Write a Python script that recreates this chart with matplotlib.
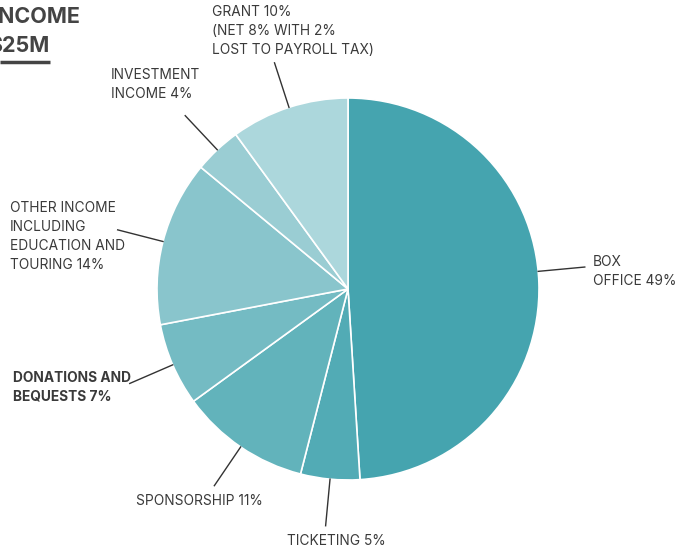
import numpy as np
import matplotlib
matplotlib.use('Agg')
import matplotlib.pyplot as plt

# Datos del gráfico (sentido horario desde arriba)
labels = ['BOX\nOFFICE 49%', 'TICKETING 5%', 'SPONSORSHIP 11%',
          'DONATIONS AND\nBEQUESTS 7%',
          'OTHER INCOME\nINCLUDING\nEDUCATION AND\nTOURING 14%',
          'INVESTMENT\nINCOME 4%',
          'GRANT 10%\n(NET 8% WITH 2%\nLOST TO PAYROLL TAX)']
shares = [49, 5, 11, 7, 14, 4, 10]
colors = ['#45a4af', '#52abb5', '#62b3bb', '#74bbc3', '#89c5cc', '#9acdd3', '#acd7dc']
bold = [False, False, False, True, False, False, False]
title_lines = ['INCOME', '$25M']

plt.rcParams['font.family'] = ['Inter', 'DejaVu Sans']

W, H = 682, 550
fig = plt.figure(figsize=(W / 100, H / 100), dpi=100)
ax = fig.add_axes([0, 0, 1, 1])

cx, cy, r = 348, H - 289, 191
wedges, _ = ax.pie(shares, colors=colors, startangle=90, counterclock=False,
                   center=(cx, cy), radius=r, frame=True,
                   wedgeprops=dict(edgecolor='white', linewidth=1.2))
ax.set_xlim(0, W)
ax.set_ylim(0, H)
ax.set_aspect('equal')
ax.axis('off')

# Posición de las etiquetas (ha, va, desplazamiento)
label_layout = [
    dict(ha='left', va='center', dx=8, dy=-4),
    dict(ha='center', va='top', dx=11, dy=-8),
    dict(ha='center', va='top', dx=-15, dy=-8),
    dict(ha='left', va='center', dx=-117, dy=-4),
    dict(ha='left', va='center', dx=-108, dy=-7),
    dict(ha='left', va='bottom', dx=-74, dy=15),
    dict(ha='left', va='bottom', dx=-63, dy=6),
]
angle_fix = {0: 3.5}

text_color = '#3a3a3a'
for i, w in enumerate(wedges):
    ang = np.deg2rad((w.theta1 + w.theta2) / 2 + angle_fix.get(i, 0))
    x0, y0 = cx + r * np.cos(ang), cy + r * np.sin(ang)
    x1, y1 = cx + 1.245 * r * np.cos(ang), cy + 1.245 * r * np.sin(ang)
    ax.plot([x0, x1], [y0, y1], color='#333333', lw=1.0)
    lay = label_layout[i]
    ax.text(x1 + lay['dx'], y1 + lay['dy'], labels[i], ha=lay['ha'], va=lay['va'],
            fontsize=9.9, color=text_color, linespacing=1.45,
            fontweight='bold' if bold[i] else 'normal')

# Título recortado arriba a la izquierda
ax.text(80, H - 17, title_lines[0], ha='right', va='center', fontsize=15.5,
        fontweight='bold', color='#444444')
ax.text(49, H - 46, title_lines[1], ha='right', va='center', fontsize=15.5,
        fontweight='bold', color='#444444')
ax.plot([0, 50], [H - 62, H - 62], color='#444444', lw=2.5, solid_capstyle='butt')

fig.savefig('out.png', dpi=100)
